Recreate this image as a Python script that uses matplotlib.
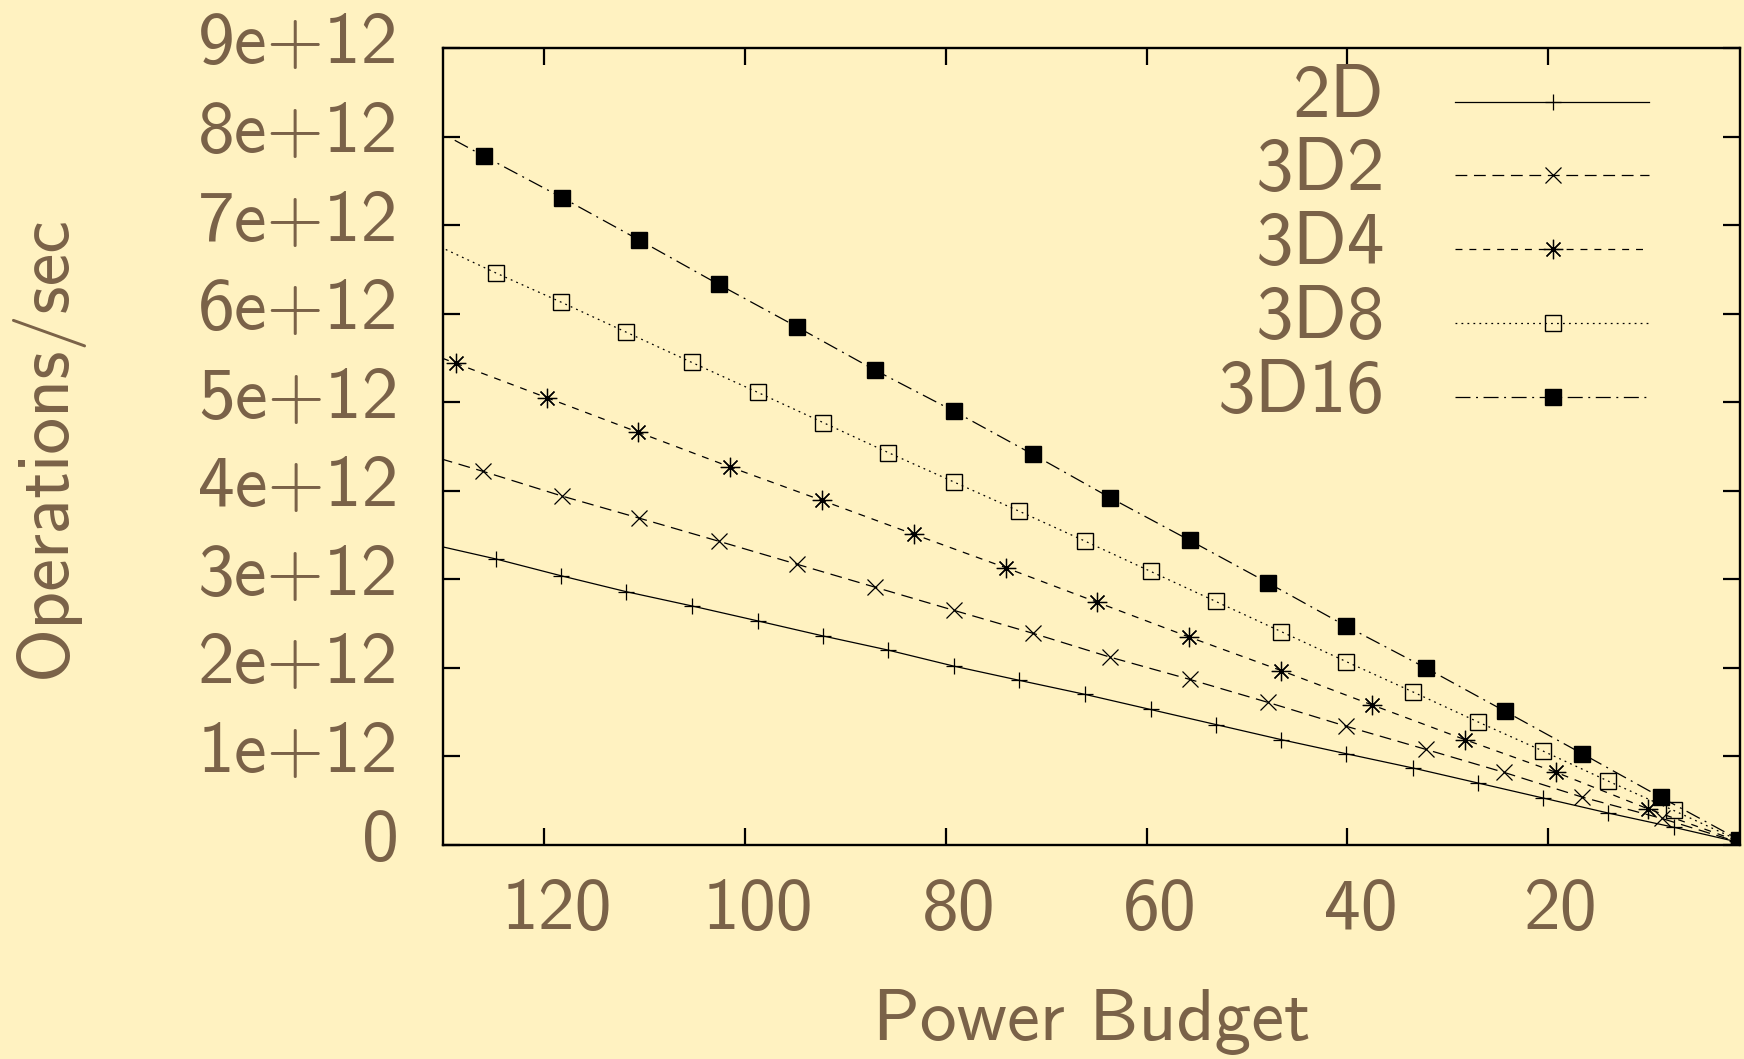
import numpy as np
import matplotlib
matplotlib.use("Agg")
from matplotlib import pyplot as plt
from matplotlib.transforms import ScaledTranslation

# power budget (x) and throughput in units of 1e12 ops/sec (y) per configuration
budget_2d = [131.4, 124.8, 118.3, 111.8, 105.3, 98.7, 92.2, 85.7, 79.2, 72.7, 66.1,
             59.6, 53.1, 46.6, 40.1, 33.5, 27.0, 20.5, 14.0, 7.5, 1.0]
ops_2d = [3.40, 3.23, 3.04, 2.86, 2.70, 2.53, 2.36, 2.20, 2.02, 1.86, 1.70,
          1.53, 1.36, 1.19, 1.03, 0.87, 0.70, 0.53, 0.36, 0.20, 0.03]

budget_3d2 = [133.8, 126.1, 118.2, 110.5, 102.6, 94.8, 87.0, 79.2, 71.3, 63.6,
              55.7, 47.9, 40.1, 32.2, 24.4, 16.6, 8.7, 1.0]
ops_3d2 = [4.48, 4.22, 3.94, 3.69, 3.43, 3.17, 2.91, 2.65, 2.39, 2.12,
           1.87, 1.61, 1.34, 1.08, 0.82, 0.54, 0.30, 0.03]

budget_3d4 = [137.9, 128.8, 119.7, 110.6, 101.5, 92.3, 83.2, 74.0, 64.9, 55.8,
              46.6, 37.5, 28.3, 19.2, 10.1, 1.0]
ops_3d4 = [5.83, 5.44, 5.05, 4.66, 4.27, 3.89, 3.51, 3.13, 2.74, 2.35,
           1.97, 1.58, 1.19, 0.82, 0.41, 0.04]

budget_3d8 = [131.4, 124.8, 118.3, 111.8, 105.3, 98.7, 92.2, 85.7, 79.2, 72.7, 66.1,
              59.6, 53.1, 46.6, 40.1, 33.5, 27.0, 20.5, 14.0, 7.5, 1.0]
ops_3d8 = [6.81, 6.46, 6.13, 5.79, 5.45, 5.11, 4.77, 4.43, 4.10, 3.77, 3.43,
           3.09, 2.75, 2.41, 2.07, 1.73, 1.39, 1.06, 0.72, 0.39, 0.05]

budget_3d16 = [133.8, 126.0, 118.2, 110.5, 102.6, 94.8, 87.0, 79.2, 71.3, 63.6,
               55.7, 47.9, 40.1, 32.2, 24.3, 16.6, 8.8, 1.0]
ops_3d16 = [8.26, 7.78, 7.31, 6.83, 6.33, 5.85, 5.36, 4.90, 4.41, 3.92,
            3.44, 2.96, 2.47, 2.00, 1.51, 1.03, 0.54, 0.06]

labels = ["2D", "3D2", "3D4", "3D8", "3D16"]
x_ticks = [120, 100, 80, 60, 40, 20]
y_ticks = [0, 1, 2, 3, 4, 5, 6, 7, 8, 9]
y_tick_labels = ["0"] + ["%de+12" % v for v in y_ticks[1:]]

bg = "#fff2c1"
ink = "#7a6248"

plt.rcParams["font.family"] = ["cmss10", "DejaVu Sans"]
plt.rcParams["lines.scale_dashes"] = False
plt.rcParams["axes.unicode_minus"] = False

styles = [
    dict(linestyle="-", marker="+", ms=12, mew=0.9),
    dict(linestyle=(0, (8.5, 4.8)), marker="x", ms=12, mew=0.9),
    dict(linestyle=(0, (5, 5)), marker=(8, 2, 0), ms=14, mew=0.9),
    dict(linestyle=(0, (1.3, 3)), marker="s", ms=12, mew=1.0, mfc="none"),
    dict(linestyle=(0, (10.8, 4, 1.4, 4)), marker="s", ms=12, mew=1.0, mfc="black"),
]

series = [(budget_2d, ops_2d), (budget_3d2, ops_3d2), (budget_3d4, ops_3d4),
          (budget_3d8, ops_3d8), (budget_3d16, ops_3d16)]

fig = plt.figure(figsize=(17.44, 10.59), dpi=100, facecolor=bg)
ax = fig.add_axes([0.254, 0.2021, 0.7437, 0.7526], facecolor=bg)

for (bx, oy), st in zip(series, styles):
    ax.plot(bx, np.array(oy) * 1e12, color="black", lw=0.9, **st)

ax.set_xlim(130.06, 0.9)
ax.set_ylim(0, 9e12)
ax.set_xticks(x_ticks)
ax.set_xticklabels([str(v) for v in x_ticks])
ax.set_yticks(np.array(y_ticks) * 1e12)
ax.set_yticklabels(y_tick_labels)

for sp in ax.spines.values():
    sp.set_linewidth(1.7)
    sp.set_color("black")
ax.tick_params(direction="in", length=12, width=1.6, top=True, right=True,
               labelsize=53, labelcolor=ink, color="black")
ax.tick_params(axis="x", pad=24)
ax.tick_params(axis="y", pad=32)

# nudge tick labels the way gnuplot places them
for lab in ax.get_xticklabels():
    lab.set_transform(lab.get_transform() + ScaledTranslation(13 / 100, 0, fig.dpi_scale_trans))
for lab in ax.get_yticklabels():
    lab.set_transform(lab.get_transform() + ScaledTranslation(0, 10 / 100, fig.dpi_scale_trans))

ax.set_xlabel("Power Budget", fontsize=53, color=ink)
ax.xaxis.set_label_coords(0.5, -0.181)
ax.set_ylabel("Operations/sec", fontsize=53, color=ink)
ax.yaxis.set_label_coords(-0.2776, 0.5)

# key in the upper right: label, sample line, marker in the middle
row_y = [0.932, 0.841, 0.748, 0.655, 0.562]
for lbl, st, yy in zip(labels, styles, row_y):
    ax.text(0.7263, yy - 0.0188, lbl, transform=ax.transAxes, ha="right",
            va="baseline", fontsize=54, color=ink)
    ax.plot([0.780, 0.930], [yy, yy], transform=ax.transAxes, color="black",
            lw=0.9, linestyle=st["linestyle"], clip_on=False)
    mk = {k: v for k, v in st.items() if k != "linestyle"}
    ax.plot([0.856], [yy], transform=ax.transAxes, color="black",
            linestyle="none", clip_on=False, **mk)

fig.savefig("out.png", dpi=100, facecolor=bg)
